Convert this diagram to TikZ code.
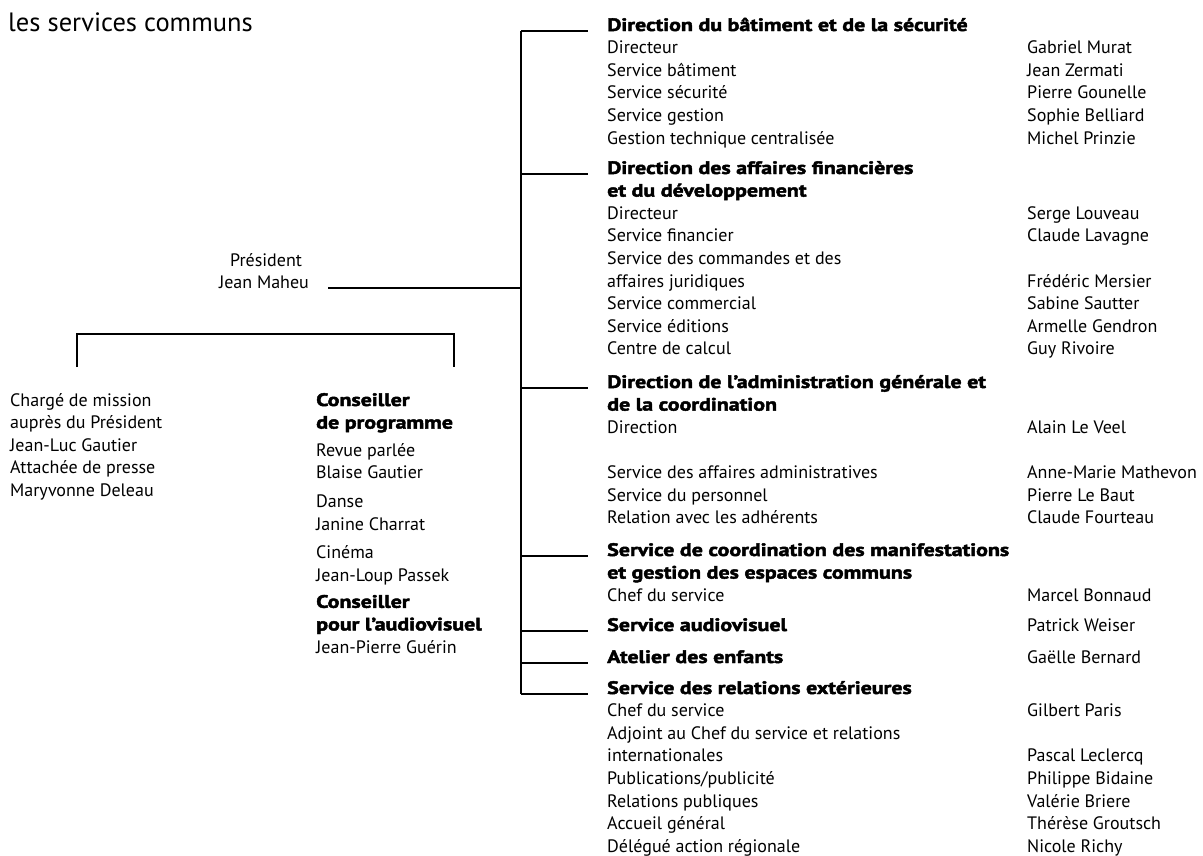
\documentclass[tikz,border=0pt]{standalone}
\usepackage{fontspec}
\setmainfont{PT Sans}
\newfontfamily\heavyfont{PT Sans Bold}[FakeBold=2.5, FakeStretch=1.22]
\usepackage{tikz}

\newcommand{\hd}[1]{{\heavyfont #1}}

\begin{document}
\begin{tikzpicture}[x=1pt,y=-1pt,
  txt/.style={anchor=base west, inner sep=0pt, font=\fontsize{18}{22.6}\selectfont},
  line/.style={black, line width=1.5pt}]
\useasboundingbox (0,0) rectangle (1203,855);

\node[anchor=base west, inner sep=0pt, font=\fontsize{26.5}{30}\selectfont] (title) at (8,31) {les services communs};

% president
\node[txt, anchor=base] (pres) at (266,266) {Président};
\node[txt, anchor=base] (maheu) at (264,288) {Jean Maheu};

% services communs, right column
\node[txt] (bat) at (607,31) {\begin{tabular}[t]{@{}p{420pt}@{}l@{}}
\hd{Direction du bâtiment et de la sécurité} & \\
Directeur & Gabriel Murat\\
Service bâtiment & Jean Zermati\\
Service sécurité & Pierre Gounelle\\
Service gestion & Sophie Belliard\\
Gestion technique centralisée & Michel Prinzie
\end{tabular}};

\node[txt] (fin) at (607,174) {\begin{tabular}[t]{@{}p{420pt}@{}l@{}}
\hd{Direction des affaires financières} & \\
\hd{et du développement} & \\
Directeur & Serge Louveau\\
Service financier & Claude Lavagne\\
Service des commandes et des & \\
affaires juridiques & Frédéric Mersier\\
Service commercial & Sabine Sautter\\
Service éditions & Armelle Gendron\\
Centre de calcul & Guy Rivoire
\end{tabular}};

\node[txt] (adm) at (607,388) {\begin{tabular}[t]{@{}p{420pt}@{}l@{}}
\hd{Direction de l’administration générale et} & \\
\hd{de la coordination} & \\
Direction & Alain Le Veel\\
 & \\
Service des affaires administratives & Anne-Marie Mathevon\\
Service du personnel & Pierre Le Baut\\
Relation avec les adhérents & Claude Fourteau
\end{tabular}};

\node[txt] (coord) at (607,556) {\begin{tabular}[t]{@{}p{420pt}@{}l@{}}
\hd{Service de coordination des manifestations} & \\
\hd{et gestion des espaces communs} & \\
Chef du service & Marcel Bonnaud
\end{tabular}};

\node[txt] (av) at (607,631) {\begin{tabular}[t]{@{}p{420pt}@{}l@{}}
\hd{Service audiovisuel} & Patrick Weiser
\end{tabular}};

\node[txt] (ate) at (607,663) {\begin{tabular}[t]{@{}p{420pt}@{}l@{}}
\hd{Atelier des enfants} & Gaëlle Bernard
\end{tabular}};

\node[txt] (rel) at (607,694) {\begin{tabular}[t]{@{}p{420pt}@{}l@{}}
\hd{Service des relations extérieures} & \\
Chef du service & Gilbert Paris\\
Adjoint au Chef du service et relations & \\
internationales & Pascal Leclercq\\
Publications/publicité & Philippe Bidaine\\
Relations publiques & Valérie Briere\\
Accueil général & Thérèse Groutsch\\
Délégué action régionale & Nicole Richy
\end{tabular}};

% left column
\node[txt] (charge) at (10,406) {\begin{tabular}[t]{@{}l@{}}
Chargé de mission\\
auprès du Président\\
Jean-Luc Gautier\\
Attachée de presse\\
Maryvonne Deleau
\end{tabular}};

\node[txt] (cons) at (316,406) {\begin{tabular}[t]{@{}l@{}}
\hd{Conseiller}\\
\hd{de programme}\\[5pt]
Revue parlée\\
Blaise Gautier\\[6pt]
Danse\\
Janine Charrat\\[6pt]
Cinéma\\
Jean-Loup Passek\\[4pt]
\hd{Conseiller}\\
\hd{pour l’audiovisuel}\\
Jean-Pierre Guérin
\end{tabular}};

% connectors
\coordinate (trunk) at ([xshift=-86pt]bat.base west);
\draw[line] (trunk) -- (trunk |- rel.base);
\draw[line] (trunk) -- ([xshift=-19pt]bat.base west);
\draw[line] (trunk |- fin.base) -- ([xshift=-19pt]fin.base west);
\draw[line] (trunk |- adm.base) -- ([xshift=-19pt]adm.base west);
\draw[line] (trunk |- coord.base) -- ([xshift=-19pt]coord.base west);
\draw[line] (trunk |- av.base) -- ([xshift=-19pt]av.base west);
\draw[line] (trunk |- ate.base) -- ([xshift=-19pt]ate.base west);
\draw[line] (trunk |- rel.base) -- ([xshift=-19pt]rel.base west);
\draw[line] ([xshift=19pt]maheu.base east) -- (trunk |- maheu.base);

\draw[line] ([xshift=67pt,yshift=39pt]charge.base west) -- ++(0,-33)
  -| ([xshift=138pt,yshift=39pt]cons.base west);
\end{tikzpicture}
\end{document}
